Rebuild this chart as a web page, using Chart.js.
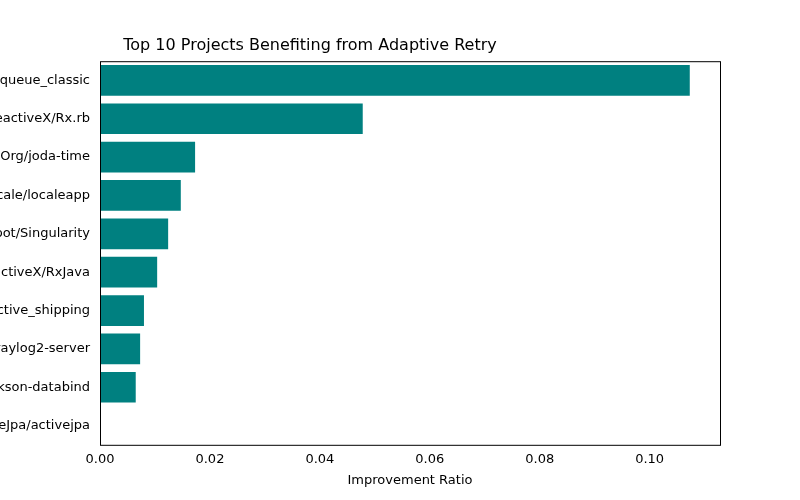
<!DOCTYPE html>
<html>
<head>
<script src="https://cdn.jsdelivr.net/npm/chart.js@4"></script>
<style>
  body { margin: 0; background: #fff; }
  #wrap { position: relative; width: 800px; height: 500px; overflow: hidden; }
  #projChart { position: absolute; left: -100px; top: 0; }
</style>
</head>
<body>
<div id="wrap"><canvas id="projChart" width="1020" height="500"></canvas></div>
<script>
const projects = [
  "QueueClassic/queue_classic", "ReactiveX/Rx.rb", "JodaOrg/joda-time",
  "Locale/localeapp", "HubSpot/Singularity", "ReactiveX/RxJava",
  "Shopify/active_shipping", "Graylog2/graylog2-server",
  "FasterXML/jackson-databind", "ActiveJpa/activejpa"
];
const ratios = [0.1073, 0.0478, 0.0173, 0.0147, 0.0124, 0.0104, 0.0080, 0.0073, 0.0065, 0.0];
const xMax = 0.1128;

// draw the full matplotlib-style frame round the plot area
const frame = {
  id: "frame",
  afterDraw(chart) {
    const a = chart.chartArea, ctx = chart.ctx;
    ctx.save();
    ctx.strokeStyle = "#000";
    ctx.lineWidth = 1;
    ctx.strokeRect(a.left + 0.5, a.top + 0.5, a.right - a.left, a.bottom - a.top);
    ctx.restore();
  }
};

Chart.defaults.font.family = "DejaVu Sans";
Chart.defaults.font.size = 13;
Chart.defaults.color = "#000";

new Chart(document.getElementById("projChart"), {
  type: "bar",
  data: {
    labels: projects,
    datasets: [{ data: ratios, backgroundColor: "#008080", categoryPercentage: 0.8, barPercentage: 1 }]
  },
  options: {
    indexAxis: "y",
    responsive: false,
    animation: false,
    devicePixelRatio: 1,
    layout: { padding: { top: 0, right: 200, bottom: 8, left: 0 } },
    plugins: {
      legend: { display: false },
      tooltip: { enabled: false },
      title: {
        display: true,
        text: "Top 10 Projects Benefiting from Adaptive Retry",
        font: { size: 16, weight: "normal" },
        padding: { top: 36, bottom: 6 }
      }
    },
    scales: {
      x: {
        min: 0, max: xMax,
        grid: { display: false, drawTicks: true, tickLength: 4 },
        border: { display: false },
        ticks: { stepSize: 0.02, includeBounds: false, maxRotation: 0, callback: v => v.toFixed(2) },
        title: { display: true, text: "Improvement Ratio", padding: { top: 2 } }
      },
      y: {
        afterFit: s => { s.width = 200; },
        grid: { display: false, tickLength: 4 },
        border: { display: false },
        ticks: { padding: 6 }
      }
    }
  },
  plugins: [frame]
});
</script>
</body>
</html>
